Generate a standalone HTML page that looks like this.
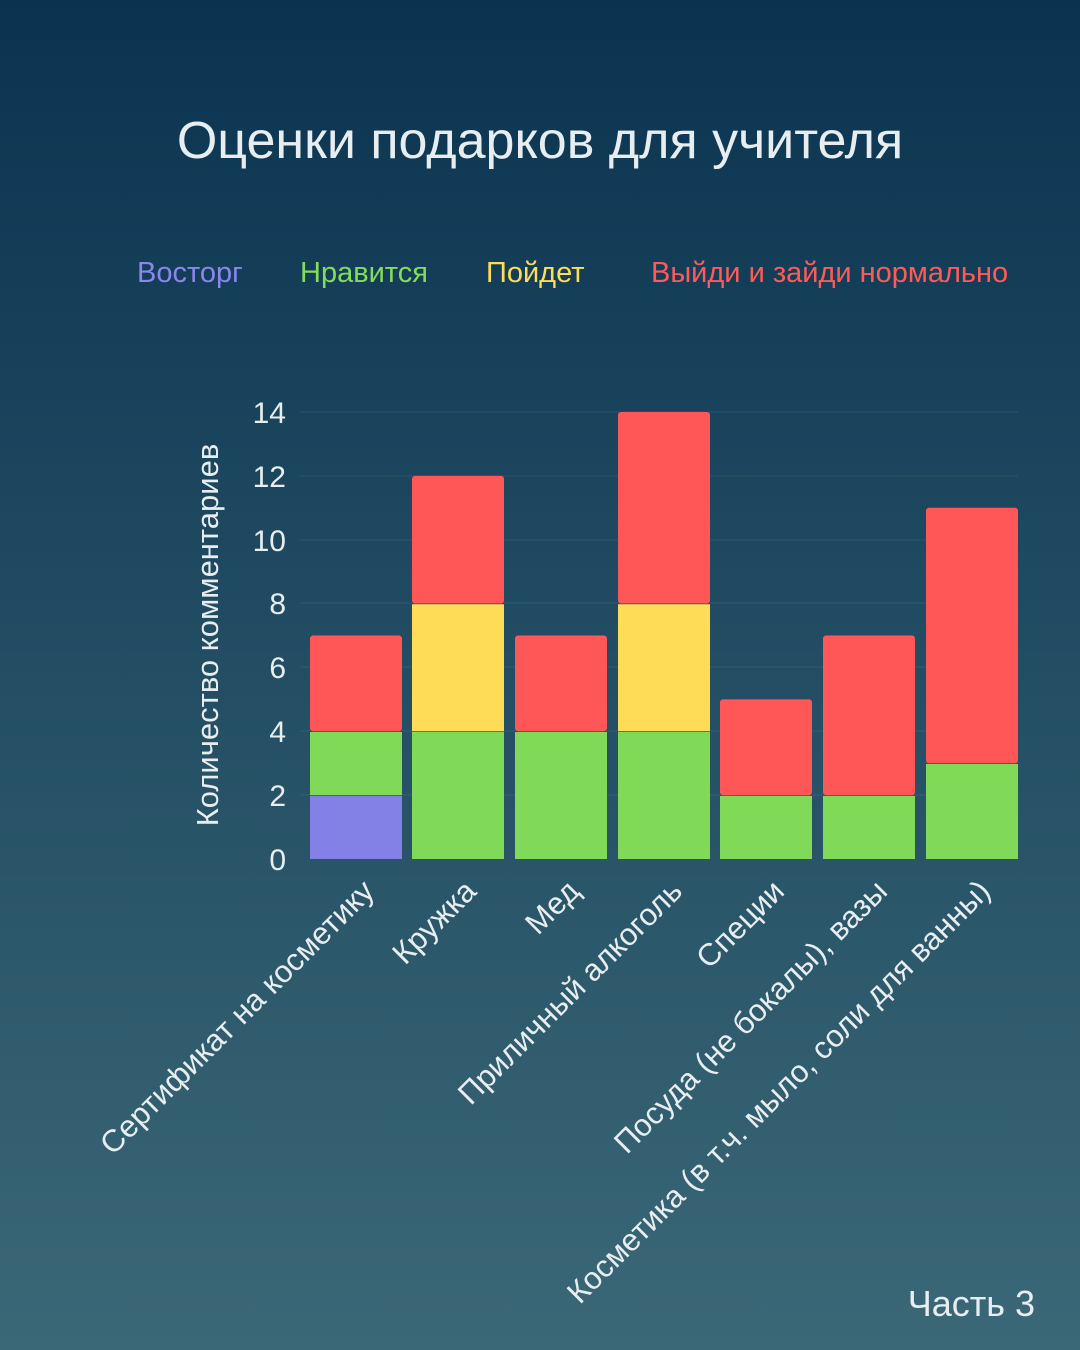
<!DOCTYPE html>
<html><head><meta charset="utf-8"><style>
html,body{margin:0;padding:0}
body{width:1080px;height:1350px;background:linear-gradient(#0a3350,#3b6877);overflow:hidden}
svg{display:block;font-family:"Liberation Sans","DejaVu Sans",sans-serif}
</style></head><body>
<svg width="1080" height="1350" viewBox="0 0 1080 1350">
<text x="540" y="158" text-anchor="middle" font-size="52" fill="#e8eef0">Оценки подарков для учителя</text>
<g font-size="29">
<text x="137" y="282" fill="#8a86ee">Восторг</text>
<text x="300" y="282" fill="#84dc5a">Нравится</text>
<text x="486" y="282" fill="#ffdc58">Пойдет</text>
<text x="651" y="282" fill="#ff5a5a">Выйди и зайди нормально</text>
</g>
<g stroke="#ffffff" stroke-opacity="0.08" stroke-width="1">
<line x1="300" x2="1018" y1="412" y2="412"/><line x1="300" x2="1018" y1="476" y2="476"/>
<line x1="300" x2="1018" y1="540" y2="540"/><line x1="300" x2="1018" y1="603" y2="603"/>
<line x1="300" x2="1018" y1="667" y2="667"/><line x1="300" x2="1018" y1="731" y2="731"/>
<line x1="300" x2="1018" y1="795" y2="795"/>
</g>
<g font-size="30" fill="#e8eef0" text-anchor="end">
<text x="286" y="870">0</text><text x="286" y="806">2</text><text x="286" y="742">4</text>
<text x="286" y="678">6</text><text x="286" y="614">8</text><text x="286" y="551">10</text>
<text x="286" y="487">12</text><text x="286" y="423">14</text>
</g>
<text transform="translate(218,635) rotate(-90)" text-anchor="middle" font-size="31" fill="#e8eef0">Количество комментариев</text>
<g id="bars"></g>
<g font-size="31" fill="#e8eef0" text-anchor="end" id="labels"></g>
<text x="1035" y="1316" text-anchor="end" font-size="36" fill="#e8eef0">Часть 3</text>
</svg>
<script>
var u=31.93,base=859,w=92;
var xs=[310,412,515,618,720,823,926];
var cols=["#8380e6","#80da58","#ffdc58","#ff5757"];
var data=[[2,2,0,3],[0,4,4,4],[0,4,0,3],[0,4,4,6],[0,2,0,3],[0,2,0,5],[0,3,0,8]];
var names=["Сертификат на косметику","Кружка","Мед","Приличный алкоголь","Специи","Посуда (не бокалы), вазы","Косметика (в т.ч. мыло, соли для ванны)"];
var g=document.getElementById("bars"),L=document.getElementById("labels"),ns="http://www.w3.org/2000/svg";
data.forEach(function(d,i){var y=base;var tot=d.reduce(function(a,b){return a+b},0);var acc=0;
d.forEach(function(v,k){if(!v)return;acc+=v;var h=v*u;y-=h;var r=document.createElementNS(ns,"rect");
r.setAttribute("x",xs[i]);r.setAttribute("y",y);r.setAttribute("width",w);r.setAttribute("height",h);r.setAttribute("fill",cols[k]);
if(acc==tot){r.setAttribute("rx",3);}g.appendChild(r);
if(acc!=tot){var l=document.createElementNS(ns,"line");l.setAttribute("x1",xs[i]);l.setAttribute("x2",xs[i]+w);l.setAttribute("y1",y);l.setAttribute("y2",y);l.setAttribute("stroke","#2a4f60");l.setAttribute("stroke-width","1.5");g.appendChild(l);}
});
var cx=xs[i]+w/2+20,cy=893;var t=document.createElementNS(ns,"text");t.setAttribute("transform","translate("+cx+","+cy+") rotate(-45)");t.textContent=names[i];L.appendChild(t);
});
</script>
</body></html>
